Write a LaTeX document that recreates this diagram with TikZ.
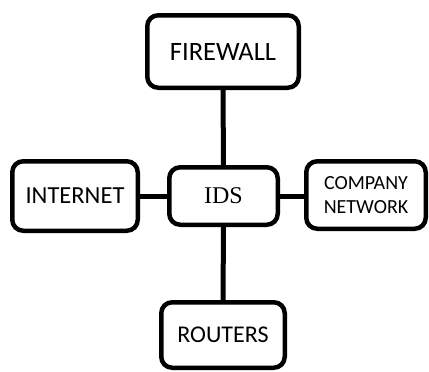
\documentclass[tikz,border=0pt]{standalone}
\usepackage{fontspec}
\setmainfont{Carlito}
\newfontfamily\idsfont{Liberation Serif}
\begin{document}
\begin{tikzpicture}[x=1pt,y=-1pt,
  box/.style={draw=black, fill=white, line width=4.5pt, rounded corners=11pt,
    inner sep=0pt, align=center},
  link/.style={draw=black, line width=5pt}]
\useasboundingbox[fill=white] (0,0) rectangle (429,372);

% components
\node[box, minimum width=151.5pt, minimum height=72.5pt,
  font=\fontsize{26.5}{30}\selectfont] (fw) at (223,51.5) {FIREWALL};
\node[box, minimum width=125.5pt, minimum height=69.5pt,
  font=\fontsize{24.5}{28}\selectfont] (inet) at (75,196) {INTERNET};
\node[box, minimum width=108.5pt, minimum height=57.5pt,
  font=\idsfont\fontsize{24}{28}\selectfont] (ids) at (223.5,196) {IDS};
\node[box, minimum width=119.5pt, minimum height=67.5pt,
  font=\fontsize{20}{23.5}\selectfont] (corp) at (366,195) {COMPANY\\NETWORK};
\node[box, minimum width=123.5pt, minimum height=65.5pt,
  font=\fontsize{24}{28}\selectfont] (rt) at (223,335) {ROUTERS};

% links to the IDS
\draw[link] (fw.south) -- (ids.north);
\draw[link] (ids.south) -- (rt.north);
\draw[link] (inet.east) -- (ids.west);
\draw[link] (ids.east) -- (ids.east -| corp.west);
\end{tikzpicture}
\end{document}
